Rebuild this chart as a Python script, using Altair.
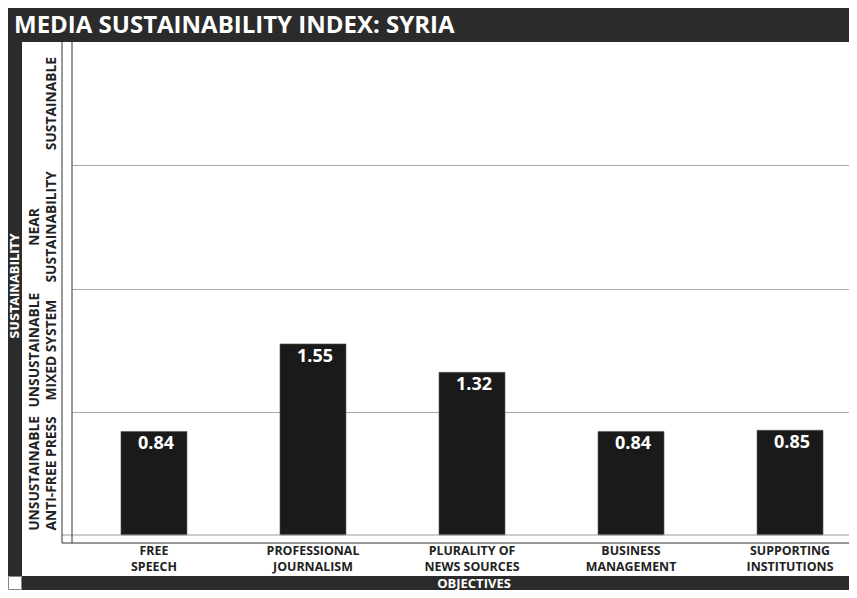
import altair as alt
import pandas as pd

# ---- data ----
categories = ["FREE SPEECH", "PROFESSIONAL JOURNALISM", "PLURALITY OF NEWS SOURCES",
              "BUSINESS MANAGEMENT", "SUPPORTING INSTITUTIONS"]
category_line1 = ["FREE", "PROFESSIONAL", "PLURALITY OF", "BUSINESS", "SUPPORTING"]
category_line2 = ["SPEECH", "JOURNALISM", "NEWS SOURCES", "MANAGEMENT", "INSTITUTIONS"]
scores = [0.84, 1.55, 1.32, 0.84, 0.85]
score_labels = ["0.84", "1.55", "1.32", "0.84", "0.85"]
levels = [0.5, 1.5, 2.5, 3.5]
level_line1 = ["UNSUSTAINABLE", "UNSUSTAINABLE", "NEAR", ""]
level_line2 = ["ANTI-FREE PRESS", "MIXED SYSTEM", "SUSTAINABILITY", "SUSTAINABLE"]
grid_values = [1, 2, 3]
title_text = "MEDIA SUSTAINABILITY INDEX: SYRIA"
y_title = "SUSTAINABILITY"
x_title = "OBJECTIVES"

# ---- layout ----
PW, PH = 777, 493
PAD_L, PAD_T, PAD_B = 64, 34, 55
DARK = "#2b2b2b"
FONT = "Open Sans"

df = pd.DataFrame({"cat": categories, "l1": category_line1, "l2": category_line2,
                   "score": scores, "slab": score_labels})
lv = pd.DataFrame({"level": levels, "t1": level_line1, "t2": level_line2})

xscale = alt.Scale(domain=categories, range=[0, 800], paddingInner=0.585, paddingOuter=0.308)
yscale = alt.Scale(domain=[0, 4])

X = alt.X("cat:N", scale=xscale, axis=None, sort=categories)

bars = alt.Chart(df).mark_bar(color="#1a1a1a", stroke="#555", strokeWidth=0.6).encode(
    x=X,
    y=alt.Y("score:Q", scale=yscale,
            axis=alt.Axis(values=grid_values, grid=True, gridColor="#a8a8a8", gridWidth=1,
                          labels=False, ticks=False, domain=False, title=None)),
)

vals = alt.Chart(df).mark_text(color="white", font=FONT, fontWeight="bold", fontSize=18,
                               baseline="alphabetic", dy=18, dx=2).encode(
    x=X, y=alt.Y("score:Q", scale=yscale), text="slab:N")

xlab_style = dict(color="#222", font=FONT, fontWeight="bold", fontSize=12.4, baseline="middle")
xlab1 = alt.Chart(df).mark_text(**xlab_style).encode(x=X, y=alt.value(509), text="l1:N")
xlab2 = alt.Chart(df).mark_text(**xlab_style).encode(x=X, y=alt.value(525), text="l2:N")

ylab_style = dict(color="#222", font=FONT, fontWeight="bold", fontSize=13.8, angle=270,
                  align="center", baseline="middle")
ylab1 = alt.Chart(lv).mark_text(**ylab_style).encode(
    x=alt.value(-37), y=alt.Y("level:Q", scale=yscale), text="t1:N")
ylab2 = alt.Chart(lv).mark_text(**ylab_style).encode(
    x=alt.value(-20), y=alt.Y("level:Q", scale=yscale), text="t2:N")

one = alt.Data(values=[{"k": 0}])

def rect(x, x2, y, y2, fill, stroke=None):
    kw = {"color": fill}
    if stroke:
        kw["stroke"] = stroke
        kw["strokeWidth"] = 1
    return alt.Chart(one).mark_rect(**kw).encode(
        x=alt.value(x), x2=alt.value(x2), y=alt.value(y), y2=alt.value(y2))

def rule(x, x2, y, y2, color):
    return alt.Chart(one).mark_rule(color=color, strokeWidth=1).encode(
        x=alt.value(x), x2=alt.value(x2), y=alt.value(y), y2=alt.value(y2))

title_bar = rect(-PAD_L, PW, -PAD_T, 0, DARK)
left_bar = rect(-PAD_L, -PAD_L + 14, 0, 534, DARK)
bottom_bar = rect(-PAD_L + 14, PW, 534, 548, DARK)
corner = rect(-PAD_L + 0.5, -PAD_L + 13.5, 534.5, 547.5, "white", stroke="#888")

v1 = rule(-10, -10, 0, 501, "#333")
v2 = rule(0, 0, 0, 501, "#333")
h1 = rule(-10, PW, 493, 493, "#999")
h2 = rule(-10, PW, 501, 501, "#333")

def label(text, x, y, size, angle=0, align="left", baseline="alphabetic", font=FONT):
    kw = dict(color="white", font=font, fontWeight="bold", fontSize=size,
              align=align, baseline=baseline)
    if angle:
        kw["angle"] = angle
    return alt.Chart(one).mark_text(**kw).encode(
        x=alt.value(x), y=alt.value(y), text=alt.value(text))

title = label(title_text, -58, -9, 24)
ytitle = label(y_title, -56.5, 244, 11.5, angle=270, align="center", baseline="middle",
               font="DejaVu Sans")
xtitle = label(x_title, 402, 541.5, 13, align="center", baseline="middle")

chart = alt.layer(
    bars, vals, xlab1, xlab2, ylab1, ylab2, h1, h2, v1, v2,
    title_bar, left_bar, bottom_bar, corner, title, ytitle, xtitle,
).properties(
    width=PW, height=PH,
    autosize=alt.AutoSizeParams(type="none"),
    padding={"left": PAD_L, "top": PAD_T, "right": 0, "bottom": PAD_B},
    background="white",
).configure_view(stroke=None)

chart.save("out.html", embed_options={"renderer": "svg", "actions": False})
